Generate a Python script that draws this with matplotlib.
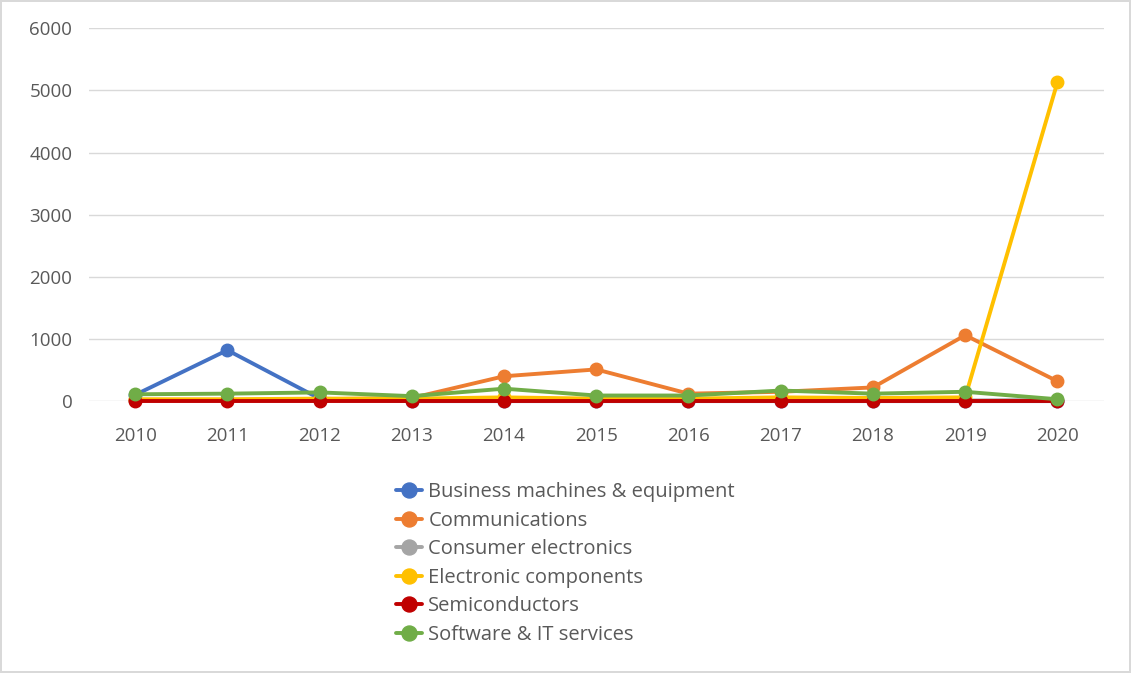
import matplotlib.pyplot as plt
import numpy as np

plt.rcParams['font.family'] = ['Open Sans', 'DejaVu Sans']

# data
years = [2010, 2011, 2012, 2013, 2014, 2015, 2016, 2017, 2018, 2019, 2020]
business = [100, 820, 40, 0, 0, 0, 0, 0, 0, 0, 0]
communications = [20, 20, 30, 50, 400, 510, 120, 150, 220, 1060, 320]
consumer = [10, 10, 10, 10, 10, 10, 10, 10, 10, 10, 20]
components = [30, 30, 40, 40, 60, 40, 40, 60, 50, 60, 5130]
semis = [0, 0, 0, 0, 0, 0, 0, 0, 0, 0, 0]
software = [110, 120, 140, 80, 200, 90, 90, 170, 120, 150, 30]

series = [
    ("Business machines & equipment", business, "#4472C4"),
    ("Communications", communications, "#ED7D31"),
    ("Consumer electronics", consumer, "#A5A5A5"),
    ("Electronic components", components, "#FFC000"),
    ("Semiconductors", semis, "#C00000"),
    ("Software & IT services", software, "#70AD47"),
]

fig = plt.figure(figsize=(11.31, 6.73), dpi=100)
fig.patch.set_edgecolor("#d9d9d9")
fig.patch.set_linewidth(1.5)
ax = fig.add_axes([0.0787, 0.404, 0.897, 0.554])

x = np.arange(len(years))
for label, vals, col in series:
    ax.plot(x, vals, color=col, lw=2.8, marker="o", ms=9, label=label,
            solid_capstyle="round", clip_on=False)

ax.set_xlim(-0.5, len(years) - 0.5)
ax.set_ylim(0, 6000)
ax.set_yticks(range(0, 6001, 1000))
ax.set_xticks(x)
ax.set_xticklabels([str(y) for y in years])
ax.grid(axis="y", color="#d9d9d9", lw=1)
ax.set_axisbelow(True)
for s in ax.spines.values():
    s.set_visible(False)
ax.tick_params(length=0, colors="#595959", labelsize=13.5)
ax.tick_params(axis="x", pad=19)
ax.tick_params(axis="y", pad=12)

leg = fig.legend(loc="upper center", bbox_to_anchor=(0.5, 0.31), frameon=False,
                 fontsize=14.5, handlelength=1.3, handletextpad=0.3, labelspacing=0.42,
                 labelcolor="#595959", markerscale=1.2)

fig.savefig("out.png", dpi=100)
